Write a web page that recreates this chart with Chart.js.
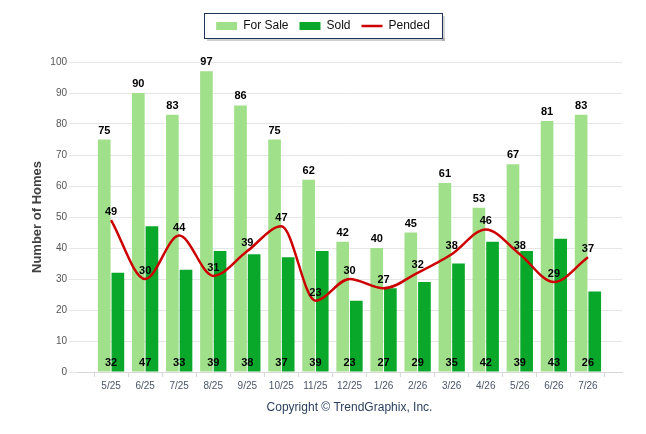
<!DOCTYPE html>
<html>
<head>
<meta charset="utf-8">
<script src="https://cdn.jsdelivr.net/npm/chart.js@4.4.0/dist/chart.umd.min.js"></script>
<style>
  html, body { margin: 0; padding: 0; background: #fff; }
  #wrap { width: 646px; height: 434px; }
</style>
</head>
<body>
<div id="wrap"><canvas id="homes"></canvas></div>
<script>
"use strict";

const months = ["5/25", "6/25", "7/25", "8/25", "9/25", "10/25", "11/25", "12/25",
  "1/26", "2/26", "3/26", "4/26", "5/26", "6/26", "7/26"];
const forSale = [75, 90, 83, 97, 86, 75, 62, 42, 40, 45, 61, 53, 67, 81, 83];
const sold = [32, 47, 33, 39, 38, 37, 39, 23, 27, 29, 35, 42, 39, 43, 26];
const pended = [49, 30, 44, 31, 39, 47, 23, 30, 27, 32, 38, 46, 38, 29, 37];
const yTicks = [0, 10, 20, 30, 40, 50, 60, 70, 80, 90, 100];

// empty slot on each side, the axis runs a full step past the first and last month
const pad = (arr) => [null, ...arr, null];

const fontFam = "'Liberation Sans', Arial, sans-serif";

const valueLabels = {
  id: "valueLabels",
  afterDatasetsDraw(chart) {
    const ctx = chart.ctx;
    const xs = chart.scales.x;
    const ys = chart.scales.y;
    ctx.save();
    ctx.font = "bold 11px " + fontFam;
    ctx.fillStyle = "#000";
    ctx.textAlign = "center";
    ctx.textBaseline = "middle";
    chart.data.datasets.forEach((ds, di) => {
      const meta = chart.getDatasetMeta(di);
      meta.data.forEach((el, i) => {
        const v = ds.data[i];
        if (v === null) return;
        if (di === 0) {
          ctx.fillText(v, el.x, el.y - 9);
        } else if (di === 1) {
          ctx.fillText(v, xs.getPixelForValue(i), ys.bottom - 9);
        } else {
          ctx.fillText(v, el.x, el.y - 8);
        }
      });
    });
    ctx.restore();
  },
};

// framed legend: more room under it, centred on the whole canvas
const legendBox = {
  id: "legendBox",
  beforeLayout(chart) {
    const lg = chart.legend;
    if (!lg || lg._extraGap) return;
    const fit = lg.fit.bind(lg);
    lg.fit = function () { fit(); this.height += 20; };
    lg._extraGap = true;
  },
  afterLayout(chart) {
    const lg = chart.legend;
    lg.left = 0;
    lg.right = chart.width;
    lg.width = chart.width;
  },
  afterDraw(chart) {
    const boxes = chart.legend.legendHitBoxes;
    if (!boxes || !boxes.length) return;
    const l = Math.min(...boxes.map((b) => b.left)) - 12;
    const r = Math.max(...boxes.map((b) => b.left + b.width)) + 12;
    const t = boxes[0].top - 7;
    const b = boxes[0].top + boxes[0].height + 6;
    const ctx = chart.ctx;
    ctx.save();
    ctx.fillStyle = "rgba(0,0,0,0.18)";
    ctx.fillRect(r, t + 3, 3, b - t);
    ctx.fillRect(l + 3, b, r - l, 3);
    ctx.strokeStyle = "#1f3458";
    ctx.lineWidth = 1;
    ctx.strokeRect(Math.round(l) + 0.5, Math.round(t) + 0.5, Math.round(r - l), Math.round(b - t));
    ctx.restore();
  },
};

new Chart(document.getElementById("homes"), {
  type: "bar",
  data: {
    labels: pad(months),
    datasets: [
      {
        label: "For Sale",
        data: pad(forSale),
        backgroundColor: "#a1e08b",
        categoryPercentage: 0.8,
        barPercentage: 0.93,
        order: 1,
      },
      {
        label: "Sold",
        data: pad(sold),
        backgroundColor: "#0aa82a",
        categoryPercentage: 0.8,
        barPercentage: 0.93,
        order: 1,
      },
      {
        type: "line",
        label: "Pended",
        data: pad(pended),
        borderColor: "#cc0000",
        backgroundColor: "#cc0000",
        borderWidth: 2.5,
        pointRadius: 0,
        cubicInterpolationMode: "monotone",
        order: 0,
      },
    ],
  },
  options: {
    responsive: true,
    maintainAspectRatio: false,
    animation: false,
    layout: { padding: { left: 0, right: 24, top: 9, bottom: 0 } },
    plugins: {
      tooltip: { enabled: false },
      legend: {
        position: "top",
        labels: {
          color: "#111",
          font: { family: fontFam, size: 12 },
          usePointStyle: true,
          pointStyleWidth: 21,
          boxHeight: 8,
          padding: 11,
          generateLabels(chart) {
            return chart.data.datasets.map((ds, i) => ({
              text: ds.label,
              datasetIndex: i,
              fillStyle: ds.backgroundColor,
              strokeStyle: ds.type === "line" ? ds.borderColor : ds.backgroundColor,
              lineWidth: ds.type === "line" ? 2.5 : 0,
              pointStyle: ds.type === "line" ? "line" : "rect",
              fontColor: "#111",
              hidden: false,
            }));
          },
        },
      },
    },
    scales: {
      x: {
        offset: false,
        grid: { drawOnChartArea: false, drawTicks: true, tickLength: 5, color: "#d8d8d8" },
        border: { display: true, color: "#d8d8d8" },
        ticks: {
          autoSkip: false,
          maxRotation: 0,
          padding: 3,
          color: "#4a5568",
          font: { family: fontFam, size: 10 },
        },
        title: {
          display: true,
          text: "Copyright © TrendGraphix, Inc.",
          color: "#2a3f5f",
          font: { family: fontFam, size: 12 },
          padding: { top: 0, bottom: 19 },
        },
        afterFit(scale) { scale.height = 62; },
      },
      y: {
        min: 0,
        max: 100,
        afterBuildTicks(scale) { scale.ticks = yTicks.map((v) => ({ value: v })); },
        grid: { color: "#e6e6e6", tickLength: 8 },
        border: { display: false },
        ticks: {
          padding: 2,
          color: "#555",
          font: { family: fontFam, size: 10 },
        },
        title: {
          display: true,
          text: "Number of Homes",
          color: "#404040",
          font: { family: fontFam, size: 13, weight: "bold" },
          padding: { top: 30, bottom: 0 },
        },
        afterFit(scale) { scale.width = 77; },
      },
    },
  },
  plugins: [valueLabels, legendBox],
});
</script>
</body>
</html>
